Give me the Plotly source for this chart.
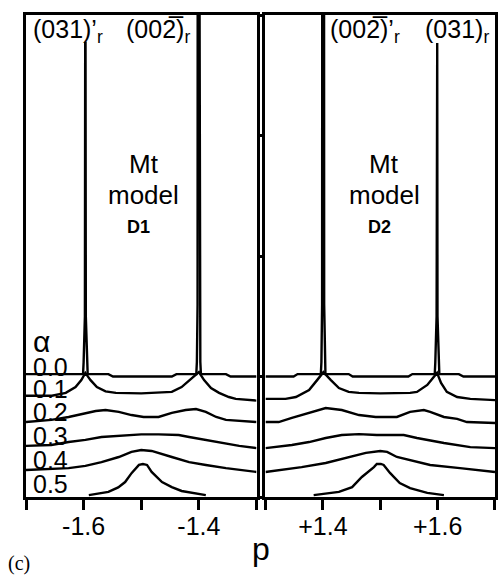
import plotly.graph_objects as go

# ---------------- data ----------------
alphas = [0.0, 0.1, 0.2, 0.3, 0.4, 0.5]
alpha_labels = ["0.0", "0.1", "0.2", "0.3", "0.4", "0.5"]

# left panel (p < 0), intensity above each curve's own baseline
L_p_00 = [-1.700, -1.6010, -1.6000, -1.5978, -1.5973, -1.5967, -1.5962, -1.5940, -1.5930,
          -1.557, -1.549, -1.447, -1.439, -1.4045, -1.4035, -1.4023, -1.4021, -1.3989,
          -1.3987, -1.3975, -1.3965, -1.353, -1.345, -1.300]
L_i_00 = [0.10, 0.10, 0.60, 2.50, 13.84, 13.84, 2.50, 0.60, 0.10,
          0.10, 0.00, 0.00, 0.10, 0.10, 0.60, 3.00, 16.0, 16.0,
          3.00, 0.60, 0.10, 0.10, 0.00, 0.00]

L_p_01 = [-1.700, -1.655, -1.631, -1.614, -1.604, -1.597, -1.588, -1.577, -1.562, -1.544,
          -1.500, -1.464, -1.447, -1.430, -1.412, -1.400, -1.391, -1.379, -1.365, -1.348,
          -1.336, -1.300]
L_i_01 = [0.20, 0.20, 0.32, 0.56, 0.85, 1.15, 0.85, 0.56, 0.38, 0.32,
          0.30, 0.32, 0.36, 0.56, 0.94, 1.18, 0.85, 0.52, 0.32, 0.15,
          0.07, 0.00]

L_p_02 = [-1.700, -1.656, -1.626, -1.597, -1.579, -1.562, -1.539, -1.517, -1.496, -1.470,
          -1.447, -1.423, -1.405, -1.388, -1.370, -1.353, -1.330, -1.300]
L_i_02 = [0.11, 0.20, 0.32, 0.49, 0.57, 0.61, 0.53, 0.40, 0.32, 0.32,
          0.49, 0.61, 0.65, 0.53, 0.32, 0.20, 0.15, 0.11]

L_p_03 = [-1.700, -1.656, -1.626, -1.597, -1.569, -1.539, -1.500, -1.470, -1.435, -1.417,
          -1.388, -1.360, -1.330, -1.300]
L_i_03 = [0.12, 0.16, 0.28, 0.37, 0.49, 0.53, 0.60, 0.60, 0.57, 0.49,
          0.37, 0.24, 0.12, 0.03]

L_p_04 = [-1.700, -1.626, -1.597, -1.569, -1.539, -1.517, -1.500, -1.482, -1.447, -1.417,
          -1.388, -1.353, -1.300]
L_i_04 = [0.12, 0.20, 0.29, 0.45, 0.66, 0.87, 0.95, 0.91, 0.66, 0.45,
          0.33, 0.20, 0.04]

L_p_05 = [-1.591, -1.557, -1.540, -1.528, -1.5165, -1.504, -1.497, -1.490, -1.482, -1.464,
          -1.447, -1.430, -1.388]
L_i_05 = [0.08, 0.21, 0.40, 0.62, 1.00, 1.33, 1.37, 1.33, 1.04, 0.62,
          0.41, 0.25, 0.08]

# right panel (p > 0)
R_p_00 = [1.300, 1.349, 1.356, 1.3965, 1.3975, 1.3987, 1.3989, 1.4021, 1.4023, 1.4035,
          1.4045, 1.445, 1.452, 1.549, 1.556, 1.5950, 1.5960, 1.5982, 1.5987, 1.5993,
          1.5998, 1.6020, 1.6030, 1.637, 1.645, 1.700]
R_i_00 = [0.00, 0.00, 0.10, 0.10, 0.60, 3.00, 16.0, 16.0, 3.00, 0.60,
          0.10, 0.10, 0.00, 0.00, 0.10, 0.10, 0.60, 2.50, 13.84, 13.84,
          2.50, 0.60, 0.10, 0.10, 0.00, 0.00]

R_p_01 = [1.300, 1.335, 1.353, 1.376, 1.390, 1.401, 1.414, 1.428, 1.445, 1.463,
          1.500, 1.552, 1.564, 1.582, 1.599, 1.606, 1.616, 1.634, 1.657, 1.700]
R_i_01 = [0.07, 0.07, 0.15, 0.44, 0.85, 1.18, 0.85, 0.52, 0.36, 0.32,
          0.30, 0.32, 0.36, 0.65, 1.15, 0.73, 0.36, 0.15, 0.07, 0.02]

R_p_02 = [1.300, 1.323, 1.346, 1.376, 1.393, 1.405, 1.433, 1.463, 1.492, 1.529,
          1.552, 1.576, 1.587, 1.611, 1.634, 1.651, 1.700]
R_i_02 = [0.11, 0.11, 0.28, 0.49, 0.61, 0.69, 0.61, 0.40, 0.32, 0.32,
          0.53, 0.61, 0.53, 0.32, 0.24, 0.11, 0.07]

R_p_03 = [1.300, 1.346, 1.376, 1.405, 1.433, 1.463, 1.494, 1.541, 1.564, 1.611,
          1.657, 1.700]
R_i_03 = [0.03, 0.16, 0.28, 0.45, 0.57, 0.61, 0.57, 0.57, 0.45, 0.24,
          0.07, 0.03]

R_p_04 = [1.300, 1.363, 1.405, 1.445, 1.475, 1.500, 1.512, 1.529, 1.552, 1.587,
          1.639, 1.700]
R_i_04 = [0.04, 0.24, 0.41, 0.66, 0.83, 0.91, 0.87, 0.66, 0.54, 0.33,
          0.20, 0.04]

R_p_05 = [1.384, 1.428, 1.451, 1.468, 1.489, 1.494, 1.501, 1.506, 1.517, 1.534,
          1.552, 1.582, 1.611]
R_i_05 = [0.08, 0.21, 0.41, 0.83, 1.24, 1.37, 1.37, 1.33, 1.00, 0.58,
          0.37, 0.17, 0.08]

left_p = [L_p_00, L_p_01, L_p_02, L_p_03, L_p_04, L_p_05]
left_i = [L_i_00, L_i_01, L_i_02, L_i_03, L_i_04, L_i_05]
right_p = [R_p_00, R_p_01, R_p_02, R_p_03, R_p_04, R_p_05]
right_i = [R_i_00, R_i_01, R_i_02, R_i_03, R_i_04, R_i_05]

left_tickvals = [-1.7, -1.6, -1.5, -1.4, -1.3]
left_ticktext = ["", "-1.6", "", "-1.4", ""]
right_tickvals = [1.3, 1.4, 1.5, 1.6, 1.7]
right_ticktext = ["", "+1.4", "", "+1.6", ""]

# ---------------- figure ----------------
OFFSET_STEP = 1.0
N = len(alphas)
SANS = "Liberation Sans, Arial, Helvetica, sans-serif"
LW = 2.4

fig = go.Figure()
for k in range(N):
    off = (N - 1 - k) * OFFSET_STEP
    fig.add_trace(go.Scatter(x=left_p[k], y=[v + off for v in left_i[k]],
                             mode="lines", line=dict(color="black", width=LW),
                             xaxis="x", yaxis="y", showlegend=False, hoverinfo="skip"))
    fig.add_trace(go.Scatter(x=right_p[k], y=[v + off for v in right_i[k]],
                             mode="lines", line=dict(color="black", width=LW),
                             xaxis="x2", yaxis="y2", showlegend=False, hoverinfo="skip"))

ML, MR, MT, MB = 26, 6, 15, 78
W, H = 504, 575
PW, PH = W - ML - MR, H - MT - MB


def px(x):
    return (x - ML) / PW


def py(y):
    return (H - MB - y) / PH


axis_common = dict(showline=True, linecolor="black", linewidth=3, mirror=True,
                   showgrid=False, zeroline=False)
tick_common = dict(ticks="outside", ticklen=10, tickwidth=2.5, tickcolor="black",
                   tickfont=dict(family=SANS, size=25, color="black"),
                   ticklabelstandoff=-5)
fig.update_layout(
    width=W, height=H, margin=dict(l=ML, r=MR, t=MT, b=MB),
    paper_bgcolor="white", plot_bgcolor="white",
    xaxis=dict(domain=[0, px(258)], range=[-1.7, -1.3], tickvals=left_tickvals,
               ticktext=left_ticktext, anchor="y", **tick_common, **axis_common),
    xaxis2=dict(domain=[px(267), 1], range=[1.3, 1.7], tickvals=right_tickvals,
                ticktext=right_ticktext, anchor="y2", **tick_common, **axis_common),
    yaxis=dict(range=[0, 20], showticklabels=False, ticks="", anchor="x", **axis_common),
    yaxis2=dict(range=[0, 20], showticklabels=False, ticks="outside", ticklen=5,
                tickwidth=2.5, tickcolor="black", tickvals=[0, 5, 10, 15, 20],
                anchor="x2", **axis_common),
)

ann = []


def add_text(text, x, y, size, xanchor="center", family=SANS, yanchor="middle"):
    ann.append(dict(text=text, x=px(x), y=py(y), xref="paper", yref="paper",
                    showarrow=False, xanchor=xanchor, yanchor=yanchor,
                    font=dict(family=family, size=size, color="black")))


TWO_BAR = "2\u0305"
add_text("(031)’<sub>r</sub>", 31, 31, 25, xanchor="left")
add_text("(00" + TWO_BAR + ")<sub>r</sub>", 125, 31, 25, xanchor="left")
add_text("(00" + TWO_BAR + ")’<sub>r</sub>", 330, 31, 25, xanchor="left")
add_text("(031)<sub>r</sub>", 426, 31, 25, xanchor="left")

add_text("Mt", 145, 163.5, 26)
add_text("model", 144, 194.5, 26)
add_text("<b>D1</b>", 139, 227, 18)
add_text("Mt", 386, 163.5, 26)
add_text("model", 387, 194.5, 26)
add_text("<b>D2</b>", 381.5, 227, 18)

add_text("α", 31, 341, 30, xanchor="left")
label_y = [366.5, 389, 411.5, 436, 460, 483.5]
for lab, yy in zip(alpha_labels, label_y):
    add_text(lab, 31, yy, 25, xanchor="left")

add_text("p", 263, 549, 32)
add_text("(c)", 6, 563, 20, xanchor="left", family="Liberation Serif, Times New Roman, serif")

fig.update_layout(annotations=ann)
fig.write_html("out.html")
